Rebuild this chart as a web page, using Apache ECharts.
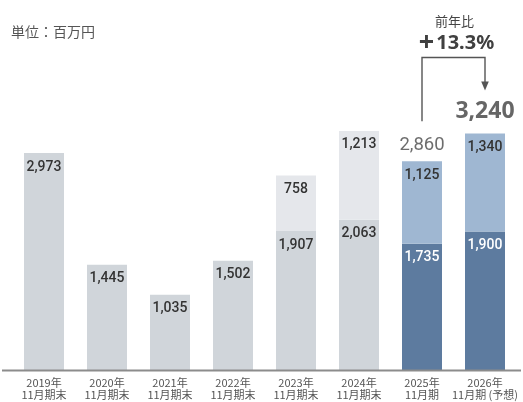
<!DOCTYPE html>
<html>
<head>
<meta charset="utf-8">
<script src="https://cdn.jsdelivr.net/npm/echarts@6/dist/echarts.min.js"></script>
<style>
  html, body { margin: 0; padding: 0; background: #ffffff; }
  #chart { width: 523px; height: 402px; }
</style>
</head>
<body>
<div id="chart"></div>
<script>
// Fiscal years (November year-end) and their sub-caption lines
const years = ['2019年', '2020年', '2021年', '2022年', '2023年', '2024年', '2025年', '2026年'];
const periods = ['11月期末', '11月期末', '11月期末', '11月期末', '11月期末', '11月期末', '11月期', '11月期 (予想)'];

// Lower block of each column, and the upper block where one exists (百万円)
const baseValues = [2973, 1445, 1035, 1502, 1907, 2063, 1735, 1900];
const upperValues = [null, null, null, null, 758, 1213, 1125, 1340];
// Column totals called out above the last two years
const totalValues = [null, null, null, null, null, null, 2860, 3240];

const unitText = '単位：百万円';
const yoyCaption = '前年比';

const FIRST_BLUE = 6;          // columns from this index on use the blue palette
const NUM_FONT = 'Roboto, "Noto Sans", sans-serif';
const BIG_FONT = '"Noto Sans", "Noto Sans CJK JP", sans-serif';
const JP_FONT = '"Noto Sans CJK JP", "Noto Sans", sans-serif';

const fmt = v => v.toLocaleString('en-US');
const categories = years.map((y, i) => y + '\n' + periods[i]);

const baseData = baseValues.map((v, i) => {
  const blue = i >= FIRST_BLUE;
  return {
    value: v,
    itemStyle: { color: blue ? '#5d7b9f' : '#d0d5da' },
    label: { color: blue ? '#ffffff' : '#333333' }
  };
});

const upperData = upperValues.map((v, i) => {
  if (v == null) return null;
  const blue = i >= FIRST_BLUE;
  return {
    value: v,
    itemStyle: { color: blue ? '#9fb7d2' : '#e5e7eb' },
    label: { color: '#333333' }
  };
});

const lastIdx = totalValues.length - 1;
const totalData = totalValues.map((v, i) => {
  if (v == null) return null;
  if (i === lastIdx) {
    return {
      value: v,
      label: { fontSize: 23, fontWeight: 'bold', color: '#404040', fontFamily: BIG_FONT, distance: 11 }
    };
  }
  return {
    value: v,
    label: { fontSize: 18.5, fontWeight: 'normal', color: '#484848', fontFamily: NUM_FONT, distance: 6 }
  };
});

const chart = echarts.init(document.getElementById('chart'), null, { renderer: 'canvas' });

const segLabel = {
  show: true,
  position: 'insideTop',
  distance: 7,
  fontSize: 14,
  fontWeight: 500,
  fontFamily: NUM_FONT,
  formatter: p => fmt(p.value)
};

const option = {
  animation: false,
  backgroundColor: '#ffffff',
  grid: { left: 12.5, right: 6.5, top: 78, bottom: 31.5, containLabel: false },
  xAxis: {
    type: 'category',
    data: categories,
    axisLine: { show: false },
    axisTick: { show: false },
    axisLabel: {
      interval: 0,
      margin: 6,
      color: '#555555',
      fontSize: 11,
      lineHeight: 12,
      fontFamily: JP_FONT
    }
  },
  yAxis: {
    type: 'value',
    min: 0,
    max: 4000,
    show: false,
    splitLine: { show: false }
  },
  series: [
    { name: 'base', type: 'bar', stack: 'total', barWidth: 40, data: baseData, label: segLabel },
    { name: 'upper', type: 'bar', stack: 'total', barWidth: 40, data: upperData, label: segLabel },
    {
      name: 'total',
      type: 'scatter',
      symbolSize: 0,
      silent: true,
      data: totalData,
      label: { show: true, position: 'top', formatter: p => fmt(p.value) }
    }
  ]
};

chart.setOption(option);

// Baseline, year-over-year bracket and captions, placed from the axis scales
const prevIdx = lastIdx - 1;
const baseY = chart.convertToPixel({ seriesIndex: 0 }, [0, 0])[1];
const [xPrev, topPrev] = chart.convertToPixel({ seriesIndex: 2 }, [prevIdx, totalValues[prevIdx]]);
const [xLast, topLast] = chart.convertToPixel({ seriesIndex: 2 }, [lastIdx, totalValues[lastIdx]]);
const yoy = (totalValues[lastIdx] / totalValues[prevIdx] - 1) * 100;

const bracketTop = 57.5;
const lineBottom = topPrev - 40;
const arrowTip = topLast - 43;
const midX = (xPrev + xLast) / 2;
const stroke = '#555555';

chart.setOption({
  graphic: [
    {
      type: 'line',
      shape: { x1: 2, y1: baseY, x2: 521, y2: baseY },
      style: { stroke: '#8c8c8c', lineWidth: 2 },
      z: 10
    },
    {
      type: 'text',
      left: 11,
      top: 25,
      style: { text: unitText, fill: '#555555', font: '14px ' + JP_FONT }
    },
    {
      type: 'polyline',
      shape: { points: [[xPrev, lineBottom], [xPrev, bracketTop], [xLast, bracketTop], [xLast, arrowTip - 8]] },
      style: { stroke: stroke, lineWidth: 1.4, fill: null }
    },
    {
      type: 'polygon',
      shape: { points: [[xLast - 3.8, arrowTip - 9], [xLast + 3.8, arrowTip - 9], [xLast, arrowTip]] },
      style: { fill: stroke }
    },
    {
      type: 'text',
      x: midX + 1,
      y: bracketTop - 36,
      style: {
        text: yoyCaption,
        fill: '#444444',
        font: '13px ' + JP_FONT,
        align: 'center',
        verticalAlign: 'middle'
      }
    },
    {
      type: 'text',
      x: midX + 3,
      y: bracketTop - 14,
      style: {
        text: '{p|+}{n|' + yoy.toFixed(1) + '%}',
        align: 'center',
        verticalAlign: 'middle',
        rich: {
          p: { fontSize: 27, fontWeight: 'bold', fontFamily: BIG_FONT, fill: '#404040', padding: [0, 2, 0, 0] },
          n: { fontSize: 20, fontWeight: 'bold', fontFamily: BIG_FONT, fill: '#404040' }
        }
      }
    }
  ]
});
</script>
</body>
</html>
